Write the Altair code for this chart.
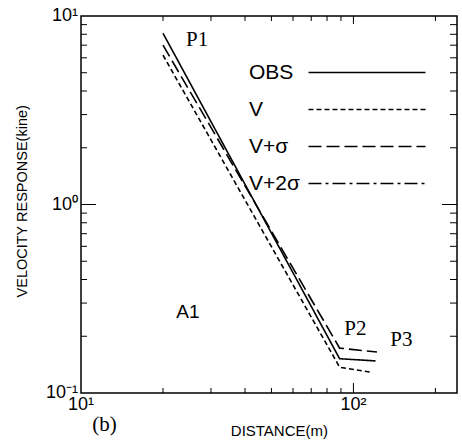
import altair as alt
import pandas as pd

# ---- data ----
series = ["OBS", "V", "V+σ", "V+2σ"]
obs_x = [20, 89, 120.5]
obs_y = [8.1, 0.152, 0.148]
v_x = [20, 89, 116]
v_y = [6.2, 0.137, 0.129]
vs_x = [20, 89, 122]
vs_y = [7.0, 0.173, 0.165]

serif_labels = ["P1", "P2", "P3", "(b)"]
serif_x = [26.7, 101.6, 150, 12.2]
serif_y = [7.46, 0.2185, 0.191, 0.0676]

sans_labels = ["A1"]
sans_x = [24.7]
sans_y = [0.269]

# tick labels
x_tick_labels = ["10¹", "10²"]
x_tick_label_pos = [10, 100]
x_tick_label_y = 0.0863
y_tick_labels = ["10⁻¹", "10⁰", "10¹"]
y_tick_label_pos = [0.1, 1, 10]
y_tick_label_x = 9.75

# axis titles (placed in data space outside the plot)
x_title = "DISTANCE(m)"
x_title_pos = (53.5, 0.0629)
y_title = "VELOCITY RESPONSE(kine)"
y_title_pos = (6.12, 1.04)

x_minor_ticks = [20, 30, 40, 50, 60, 70, 80, 90, 200]
x_major_ticks = [100]
y_minor_ticks = [0.2, 0.3, 0.4, 0.5, 0.6, 0.7, 0.8, 0.9, 2, 3, 4, 5, 6, 7, 8, 9]
y_major_ticks = [1]

rows = []
for name, xs, ys in [("OBS", obs_x, obs_y), ("V", v_x, v_y), ("V+σ", vs_x, vs_y)]:
    for a, b in zip(xs, ys):
        rows.append({"dist": a, "vel": b, "series": name})
df = pd.DataFrame(rows)

W, H = 376, 377
FONT = "Liberation Sans"
SERIF = "Liberation Serif"

xscale = alt.Scale(type="log", domain=[10, 240], nice=False)
yscale = alt.Scale(type="log", domain=[0.1, 10], nice=False)

lines = alt.Chart(df).mark_line(color="black", strokeWidth=1.6).encode(
    x=alt.X("dist:Q", scale=xscale, axis=None),
    y=alt.Y("vel:Q", scale=yscale, axis=None),
    strokeDash=alt.StrokeDash("series:N", scale=alt.Scale(
        domain=series, range=[[1, 0], [5, 3], [13, 5], [13, 4, 3, 4]]),
        legend=alt.Legend(
            orient="none", legendX=275.5, legendY=46, title=None,
            symbolType="M-11.7,0H11.7", symbolSize=100, symbolStrokeWidth=1.6,
            symbolStrokeColor="black", labelFont=FONT, labelFontSize=21,
            labelColor="black", labelAlign="left", labelOffset={"expr": "-128.5"},
            labelLimit=300, rowPadding=15, padding=0)),
)


def xticks(vals, y0, y1):
    return alt.Chart(pd.DataFrame({"v": vals})).mark_rule(
        color="black", strokeWidth=1).encode(
        x=alt.X("v:Q", scale=xscale, axis=None),
        y=alt.value(y0), y2=alt.value(y1))


def yticks(vals, x0, x1):
    return alt.Chart(pd.DataFrame({"v": vals})).mark_rule(
        color="black", strokeWidth=1).encode(
        y=alt.Y("v:Q", scale=yscale, axis=None),
        x=alt.value(x0), x2=alt.value(x1))


ticks = [
    xticks(x_minor_ticks, H, H - 5), xticks(x_major_ticks, H, H - 10),
    xticks(x_minor_ticks, 0, 5), xticks(x_major_ticks, 0, 8),
    yticks(y_minor_ticks, 0, 6), yticks(y_major_ticks, 0, 15),
    yticks(y_minor_ticks, W, W - 7), yticks(y_major_ticks, W, W - 15),
]


def texts(labels, xs, ys, font, size, align="center", angle=0):
    d = pd.DataFrame({"t": labels, "x": xs, "y": ys})
    return alt.Chart(d).mark_text(font=font, fontSize=size, color="black",
                                  baseline="middle", align=align, angle=angle).encode(
        x=alt.X("x:Q", scale=xscale, axis=None),
        y=alt.Y("y:Q", scale=yscale, axis=None),
        text="t:N")


ann = texts(serif_labels, serif_x, serif_y, SERIF, 21)
ann2 = texts(sans_labels, sans_x, sans_y, FONT, 19)
xlab = texts(x_tick_labels, x_tick_label_pos, [x_tick_label_y] * len(x_tick_labels),
             FONT, 18)
ylab = texts(y_tick_labels, [y_tick_label_x] * len(y_tick_labels), y_tick_label_pos,
             FONT, 18, align="right")
xtit = texts([x_title], [x_title_pos[0]], [x_title_pos[1]], FONT, 15)
ytit = texts([y_title], [y_title_pos[0]], [y_title_pos[1]], FONT, 14.5, angle=270)

chart = alt.layer(lines, *ticks, ann, ann2, xlab, ylab, xtit, ytit).properties(
    width=W, height=H,
    padding={"left": 81, "top": 16, "right": 5, "bottom": 50},
    autosize=alt.AutoSizeParams(type="none"),
    background="white",
).configure_view(stroke="black", strokeWidth=1.5)

chart.save("out.html", embed_options={"renderer": "svg", "actions": False})
